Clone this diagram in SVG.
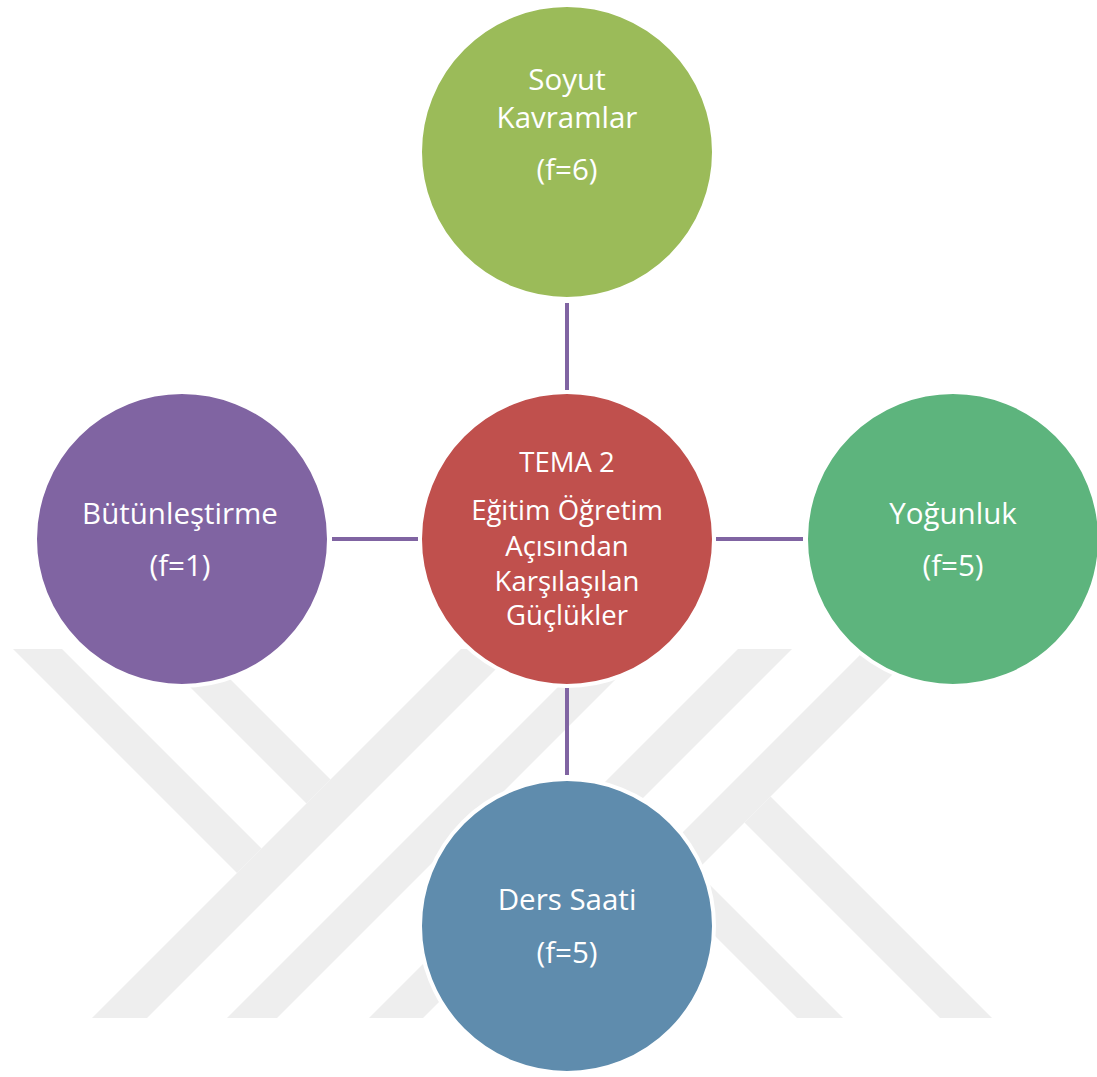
<svg xmlns="http://www.w3.org/2000/svg" width="1097" height="1077" viewBox="0 0 1097 1077">
  <style>
    .wm { fill: #EEEEEE; }
    .conn { stroke: #8064A2; stroke-width: 4; fill: none; }
    .node { stroke: #FFFFFF; stroke-width: 4; }
    .lbl { fill: #FFFFFF; font-family: "Open Sans", "Noto Sans", "DejaVu Sans", sans-serif; text-anchor: middle; }
    .outer { font-size: 29.5px; }
    .inner { font-size: 27.5px; }
  </style>
  <rect x="0" y="0" width="1097" height="1077" fill="#FFFFFF"/>
  <g id="watermark">
    <polygon class="wm" points="13,649 62,649 261.5,848.5 237,873"/>
    <polygon class="wm" points="152,649 200,649 330.5,779.5 306.5,803.5"/>
    <polygon class="wm" points="92,1018 147,1018 516,649 461,649"/>
    <polygon class="wm" points="227,1018 277,1018 646,649 596,649"/>
    <polygon class="wm" points="738,649 792,649 423,1018 369,1018"/>
    <polygon class="wm" points="866,649 918,649 549,1018 497,1018"/>
    <polygon class="wm" points="770.5,796.5 992,1018 940,1018 744.5,822.5"/>
    <polygon class="wm" points="633,808 843,1018 797,1018 610,831"/>
  </g>
  <g id="connectors">
    <line class="conn" x1="567" y1="303" x2="567" y2="390"/>
    <line class="conn" x1="332" y1="539" x2="418" y2="539"/>
    <line class="conn" x1="716" y1="539" x2="803" y2="539"/>
    <line class="conn" x1="567" y1="688" x2="567" y2="775"/>
  </g>
  <g id="node-center">
    <circle class="node" cx="567" cy="539" r="147" fill="#C0504D"/>
    <text class="lbl inner" x="567" y="472">TEMA 2</text>
    <text class="lbl inner" x="567" y="520">Eğitim Öğretim</text>
    <text class="lbl inner" x="567" y="556">Açısından</text>
    <text class="lbl inner" x="567" y="591">Karşılaşılan</text>
    <text class="lbl inner" x="567" y="625">Güçlükler</text>
  </g>
  <g id="node-top">
    <circle class="node" cx="567" cy="152" r="147" fill="#9BBB59"/>
    <text class="lbl outer" x="567" y="90">Soyut</text>
    <text class="lbl outer" x="567" y="128">Kavramlar</text>
    <text class="lbl outer" x="567" y="180">(f=6)</text>
  </g>
  <g id="node-left">
    <circle class="node" cx="182" cy="539" r="147" fill="#8064A2"/>
    <text class="lbl outer" x="180" y="524">Bütünleştirme</text>
    <text class="lbl outer" x="180" y="576">(f=1)</text>
  </g>
  <g id="node-right">
    <circle class="node" cx="953" cy="539" r="147" fill="#5DB47D"/>
    <text class="lbl outer" x="953" y="524">Yoğunluk</text>
    <text class="lbl outer" x="953" y="576">(f=5)</text>
  </g>
  <g id="node-bottom">
    <circle class="node" cx="567" cy="926" r="147" fill="#5F8CAD"/>
    <text class="lbl outer" x="567" y="910">Ders Saati</text>
    <text class="lbl outer" x="567" y="963">(f=5)</text>
  </g>
</svg>
